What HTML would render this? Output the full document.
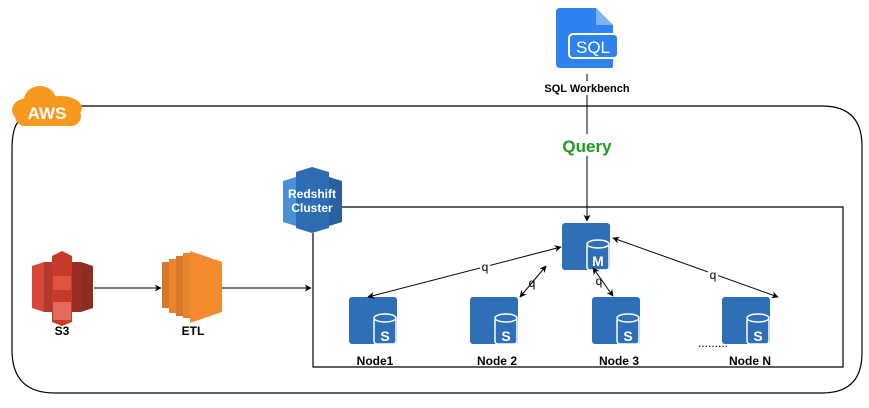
<!DOCTYPE html>
<html><head><style>
body{margin:0;background:#fff;width:869px;height:403px;overflow:hidden;font-family:"Liberation Sans",sans-serif}
</style></head><body>
<svg width="869" height="403" viewBox="0 0 869 403" xmlns="http://www.w3.org/2000/svg" font-family="Liberation Sans, sans-serif">
<defs>
<marker id="a" viewBox="0 0 10 10" refX="9" refY="5" markerWidth="7" markerHeight="7" orient="auto-start-reverse"><path d="M0,0 L10,5 L0,10 L3,5z" fill="#000"/></marker>
<g id="node">
<rect x="0" y="0" width="48" height="47" rx="3" fill="#2f6fb7"/>
<rect x="25" y="20" width="22" height="27" fill="#2f6fb7" stroke="#fff" stroke-width="1.5" rx="3"/>
<ellipse cx="36" cy="21" rx="11" ry="4" fill="#2f6fb7" stroke="#fff" stroke-width="1.5"/>
</g>
</defs>
<path d="M75,106 H822 Q862,106 862,146 V353 Q862,393 822,393 H55 Q12,393 12,350 V150 Q12,126 20,120" fill="none" stroke="#000" stroke-width="1.2"/>
<g fill="#f7981f">
<ellipse cx="40" cy="100" rx="16" ry="14"/>
<ellipse cx="60" cy="108" rx="22" ry="12"/>
<ellipse cx="28" cy="110" rx="16" ry="12"/>
<rect x="15" y="106" width="66" height="20" rx="10"/>
</g>
<text x="47" y="119" font-size="17" font-weight="bold" fill="#fff" text-anchor="middle">AWS</text>
<path d="M342,207 H843 V367 H313 V233" fill="none" stroke="#000" stroke-width="1.2"/>
<g>
<path d="M283,181 L296,177 V226 L283,222z" fill="#4a90d9"/>
<path d="M329,177 L342,181 V222 L329,226z" fill="#2a5fa0"/>
<path d="M296,172 L312,167 L329,172 V228 L312,233 L296,228z" fill="#2e6db4"/>
<text x="312" y="198" font-size="12" font-weight="bold" fill="#fff" text-anchor="middle">Redshift</text>
<text x="312" y="212" font-size="12" font-weight="bold" fill="#fff" text-anchor="middle">Cluster</text>
</g>
<path d="M560,8 H596 L613,25 V66 Q613,68 611,68 H560 Q556,68 556,64 V12 Q556,8 560,8z" fill="#2f83f0"/>
<path d="M596,8 V25 H613" fill="#7fb2f7"/>
<rect x="569" y="34" width="49" height="24" rx="4" fill="#2f83f0" stroke="#fff" stroke-width="2"/>
<text x="593" y="53" font-size="17" fill="#fff" text-anchor="middle">SQL</text>
<line x1="587" y1="74" x2="587" y2="221" stroke="#000" marker-end="url(#a)"/>
<rect x="543" y="81" width="88" height="14" fill="#fff"/>
<text x="587" y="92" font-size="11" font-weight="bold" text-anchor="middle">SQL Workbench</text>
<rect x="555" y="134" width="64" height="22" fill="#fff"/>
<text x="587" y="152" font-size="17" font-weight="bold" fill="#1f9a1f" text-anchor="middle">Query</text>
<g>
<path d="M32,266 L44,262 V312 L32,308z" fill="#d9473a"/>
<path d="M81,262 L93,266 V308 L81,312z" fill="#8c2e24"/>
<path d="M52,256 L62,251 L72,256 V322 L62,326 L52,322z" fill="#c8392c"/>
<rect x="53" y="276" width="18" height="14" fill="#e05242"/>
<rect x="53" y="302" width="18" height="18" fill="#e26a5e"/>
<rect x="44" y="262" width="8" height="50" fill="#b43a2e"/>
<rect x="72" y="262" width="9" height="50" fill="#9c2f25"/>
</g>
<text x="62" y="335" font-size="12" font-weight="bold" text-anchor="middle">S3</text>
<g>
<rect x="162" y="262" width="7" height="46" fill="#d9762a"/>
<rect x="169" y="259" width="7" height="54" fill="#e6852f"/>
<rect x="176" y="256" width="7" height="60" fill="#d9762a"/>
<rect x="183" y="253" width="7" height="65" fill="#e6852f"/>
<path d="M190,251 L222,262 V312 L190,323z" fill="#f58b31"/>
</g>
<text x="193" y="335" font-size="12" font-weight="bold" text-anchor="middle">ETL</text>
<line x1="94" y1="288" x2="161" y2="288" stroke="#000" marker-end="url(#a)"/>
<line x1="222" y1="288" x2="311" y2="288" stroke="#000" marker-end="url(#a)"/>
<use href="#node" x="562" y="223"/>
<text x="598" y="266" font-size="14" font-weight="bold" fill="#fff" text-anchor="middle">M</text>
<use href="#node" x="349" y="297"/><text x="385" y="341" font-size="14" font-weight="bold" fill="#fff" text-anchor="middle">S</text>
<use href="#node" x="470" y="297"/><text x="506" y="341" font-size="14" font-weight="bold" fill="#fff" text-anchor="middle">S</text>
<use href="#node" x="592" y="297"/><text x="628" y="341" font-size="14" font-weight="bold" fill="#fff" text-anchor="middle">S</text>
<use href="#node" x="722" y="297"/><text x="758" y="341" font-size="14" font-weight="bold" fill="#fff" text-anchor="middle">S</text>
<g font-size="12" font-weight="bold" text-anchor="middle">
<text x="375" y="365">Node1</text>
<text x="497" y="365">Node 2</text>
<text x="619" y="365">Node 3</text>
<text x="750" y="365">Node N</text>
</g>
<text x="713" y="347" font-size="12" text-anchor="middle">.........</text>
<g stroke="#000" fill="none" marker-start="url(#a)" marker-end="url(#a)">
<line x1="561" y1="247" x2="368" y2="297"/>
<line x1="546" y1="266" x2="520" y2="297"/>
<line x1="593" y1="268" x2="613" y2="296"/>
<line x1="613" y1="238" x2="778" y2="297"/>
</g>
<g font-size="12" text-anchor="middle">
<rect x="480" y="260" width="10" height="12" fill="#fff"/><text x="485" y="271">q</text>
<text x="532" y="287">q</text>
<text x="599" y="285">q</text>
<rect x="708" y="268" width="10" height="12" fill="#fff"/><text x="713" y="279">q</text>
</g>
</svg>
</body></html>
